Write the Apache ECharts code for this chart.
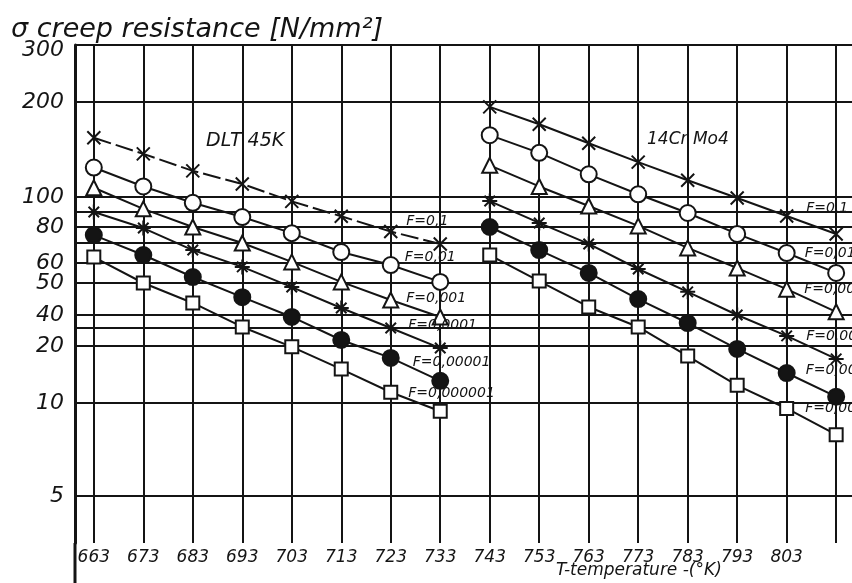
<!DOCTYPE html>
<html><head><meta charset="utf-8">
<script src="https://cdn.jsdelivr.net/npm/echarts@6/dist/echarts.min.js"></script>
<style>html,body{margin:0;padding:0;background:#fff}#c{width:852px;height:583px}</style>
</head><body><div id="c"></div>
<script>
// ---------- data ----------
const tempDLT = [663, 673, 683, 693, 703, 713, 723, 733];
const tempCrMo = [743, 753, 763, 773, 783, 793, 803, 813];
const xTickLabels = [663, 673, 683, 693, 703, 713, 723, 733, 743, 753, 763, 773, 783, 793, 803];
const xGridValues = [663, 673, 683, 693, 703, 713, 723, 733, 743, 753, 763, 773, 783, 793, 803, 813];
const yTickLabels = [300, 200, 100, 80, 60, 50, 40, 20, 10, 5];
const yGridValues = [200, 100, 90, 80, 70, 60, 50, 40, 30, 20, 10, 5];
const seriesNames = ['F=0,1', 'F=0,01', 'F=0,001', 'F=0,0001', 'F=0,00001', 'F=0,000001'];

// DLT 45K  (creep resistance, N/mm2)
const dlt_F1 = [154, 137, 121, 110, 97, 87, 77, 69.5];
const dlt_F2 = [124, 108, 96, 86.5, 76, 65.3, 58.9, 50.5];
const dlt_F3 = [107, 92, 80, 70, 60.5, 50.5, 44.4, 38.3];
const dlt_F4 = [90, 79.3, 66.3, 57.9, 48.6, 42, 30, 19.5];
const dlt_F5 = [74.8, 63.8, 52.8, 45.3, 38.3, 22.9, 17.3, 13.1];
const dlt_F6 = [62.8, 50, 43.5, 30.7, 19.8, 15.1, 11.4, 9.4];
// 14CrMo4
const crmo_F1 = [193, 170, 148, 129, 113, 99.3, 87.2, 75.5];
const crmo_F2 = [157, 138, 118, 102, 89.3, 75.5, 64.8, 54.8];
const crmo_F3 = [126, 108, 93.9, 80.7, 67.4, 57.3, 47.9, 40.9];
const crmo_F4 = [97.2, 82.6, 69.5, 56.8, 47, 40, 25.1, 17.1];
const crmo_F5 = [80, 66.3, 54.8, 44.7, 33.5, 19.3, 14.4, 10.8];
const crmo_F6 = [63.8, 50.9, 42.3, 30.7, 17.7, 12.4, 9.6, 7.9];

// ---------- hand-drawn (non-uniform) stress scale: knots of the paper ----------
const scaleStress = [5, 10, 20, 30, 40, 50, 60, 70, 80, 90, 100, 200, 300];
const scaleAxisPos = [47, 140, 197, 215, 228, 260, 280, 300, 316, 331, 346, 441, 493];
const AXIS_MAX = 498;
function toAxis(v) {
  let i = 0;
  while (i < scaleStress.length - 2 && v > scaleStress[i + 1]) i++;
  const s0 = scaleStress[i], s1 = scaleStress[i + 1];
  const p0 = scaleAxisPos[i], p1 = scaleAxisPos[i + 1];
  const t = Math.log(v / s0) / Math.log(s1 / s0);
  return p0 + t * (p1 - p0);
}
const yLabelPos = yTickLabels.map(toAxis);
const yGridPos = yGridValues.map(toAxis).concat([AXIS_MAX]);
function yLabelText(u) {
  for (let i = 0; i < yLabelPos.length; i++) if (Math.abs(yLabelPos[i] - u) < 0.01) return String(yTickLabels[i]);
  return '';
}

const crossPath = 'path://M0,0L10,10M10,0L0,10';
const starPath = 'path://M5,-1L5,11M-1,5L11,5M0.8,0.8L9.2,9.2M9.2,0.8L0.8,9.2';
const symbols = [
  {symbol: crossPath, size: 13},
  {symbol: 'emptyCircle', size: 16},
  {symbol: 'emptyTriangle', size: 15},
  {symbol: starPath, size: 15},
  {symbol: 'circle', size: 16},
  {symbol: 'emptyRect', size: 13}
];
const INK = '#141414';
const HAND = "'DejaVu Sans', sans-serif";

function makeSeries(name, temps, values, k, labelIdx, offset, dashed) {
  return {
    type: 'line', name: name,
    symbol: symbols[k].symbol, symbolSize: symbols[k].size,
    itemStyle: {color: INK, borderColor: INK, borderWidth: 2},
    lineStyle: {color: INK, width: 2, type: dashed ? [18, 5] : 'solid'},
    z: 3,
    data: temps.map((t, i) => {
      const item = {value: [t, toAxis(values[i])]};
      if (i === labelIdx) {
        item.label = {show: true, formatter: name, position: 'right', distance: 5, offset: offset,
          color: INK, fontSize: 14, fontStyle: 'italic', fontFamily: HAND};
      }
      return item;
    })
  };
}

const dlt = [dlt_F1, dlt_F2, dlt_F3, dlt_F4, dlt_F5, dlt_F6];
const crmo = [crmo_F1, crmo_F2, crmo_F3, crmo_F4, crmo_F5, crmo_F6];
const dltOffsets = [[3, -10], [0, -8], [2, -2], [4, -3], [8, 4], [5, 1]];
const crmoOffsets = [[7, -8], [4, 0], [4, 0], [6, 0], [5, -3], [6, 0]];
const series = [];
for (let k = 0; k < 6; k++) series.push(makeSeries(seriesNames[k], tempDLT, dlt[k], k, 6, dltOffsets[k], k === 0));
for (let k = 0; k < 6; k++) series.push(makeSeries(seriesNames[k], tempCrMo, crmo[k], k, 6, crmoOffsets[k], false));

const chart = echarts.init(document.getElementById('c'), null, {renderer: 'canvas'});
chart.setOption({
  animation: false,
  backgroundColor: '#fff',
  title: {
    text: '\u03c3 creep resistance [N/mm\u00b2]', left: 6, top: 11,
    textStyle: {fontSize: 27, fontWeight: 'normal', fontStyle: 'italic', fontFamily: HAND, color: INK}
  },
  grid: {left: 75, right: 0, top: 45, bottom: 40, containLabel: false},
  xAxis: {
    type: 'value', min: 659.2, max: 816.2,
    axisLine: {show: false},
    axisTick: {show: false, customValues: xGridValues},
    axisLabel: {customValues: xTickLabels, margin: 6, fontSize: 17, fontStyle: 'italic', fontFamily: HAND, color: INK},
    splitLine: {show: true, lineStyle: {color: INK, width: 2}}
  },
  yAxis: {
    type: 'value', min: 0, max: AXIS_MAX,
    axisLine: {show: true, onZero: false, lineStyle: {color: INK, width: 3}},
    axisTick: {show: false, customValues: yGridPos},
    axisLabel: {customValues: yLabelPos, formatter: yLabelText, margin: 11, fontSize: 22,
      fontStyle: 'italic', fontFamily: HAND, color: INK},
    splitLine: {show: true, lineStyle: {color: INK, width: 2}}
  },
  graphic: [
    {type: 'text', left: 206, top: 132, style: {text: 'DLT 45K', fontSize: 19, fontStyle: 'italic', fontFamily: HAND, fill: INK}},
    {type: 'text', left: 647, top: 131, style: {text: '14Cr Mo4', fontSize: 17, fontStyle: 'italic', fontFamily: HAND, fill: INK}},
    {type: 'text', left: 556, top: 562, style: {text: 'T-temperature -(\u00b0K)', fontSize: 17, fontStyle: 'italic', fontFamily: HAND, fill: INK}},
    {type: 'line', shape: {x1: 75, y1: 543, x2: 75, y2: 583}, style: {stroke: INK, lineWidth: 3}}
  ],
  series: series
});
</script></body></html>
